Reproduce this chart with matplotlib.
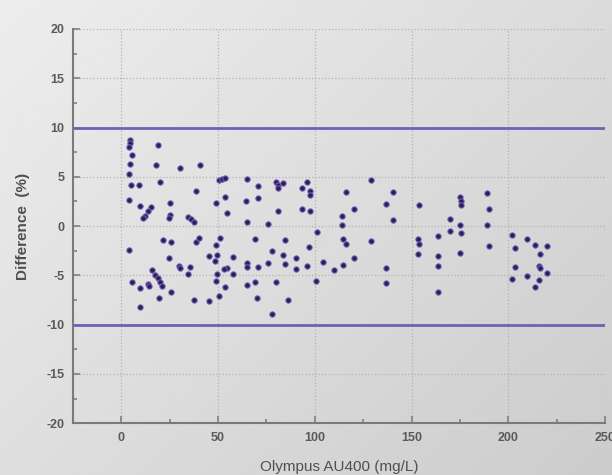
import numpy as np
import matplotlib
matplotlib.use("Agg")
import matplotlib.pyplot as plt
from matplotlib.ticker import MultipleLocator

# values
x = [4.6, 4.3, 4.0, 5.7, 4.6, 3.8, 4.8, 9.4, 3.8, 9.6, 15.3, 13.7, 12.4, 11.2, 19.2, 18.0,
     20.1, 25.3, 25.3, 24.9, 30.1, 40.5, 38.5, 34.7, 36.1, 37.8, 21.5, 25.6, 38.7, 4.1, 24.9,
     29.9, 30.4, 35.6, 34.7, 15.8, 17.5, 18.9, 20.1, 21.1, 5.5, 9.8, 13.9, 14.6, 25.8, 19.4,
     9.8, 37.8,
     50.7, 52.2, 53.8, 65.1, 70.4, 79.9, 81.1, 83.3, 80.8, 95.7, 93.5, 97.4, 97.3, 53.6, 49.0,
     64.4, 70.8, 54.5, 80.8, 93.3, 97.4, 64.8, 75.8, 100.9, 40.2, 51.0, 49.0, 69.1, 84.4, 97.1,
     78.0, 83.3, 90.2, 95.7, 90.2, 84.4, 75.8, 70.8, 64.8, 64.8, 57.9, 45.5, 49.3, 48.6, 54.5,
     53.1, 57.9, 49.3, 48.8, 53.4, 65.1, 69.2, 79.9, 100.5, 104.0, 45.5, 50.7, 70.3, 86.2, 78.0,
     129.0, 116.3, 140.4, 137.0, 153.8, 120.1, 113.9, 113.9, 140.4, 114.6, 116.0, 129.0, 153.1,
     153.8, 153.1, 163.8, 163.8, 163.8, 163.8, 110.1, 114.6, 120.1, 137.0, 137.0, 169.9, 169.9,
     175.1, 175.4, 175.6, 175.1, 175.6, 175.1, 189.0, 190.2, 189.0, 190.2, 201.9, 203.6, 203.6,
     201.9, 209.8, 213.6, 219.7, 216.3, 216.0, 216.3, 219.7, 209.8, 216.0, 213.6]
y = [8.7, 8.4, 8.0, 7.2, 6.3, 5.3, 4.15, 4.15, 2.6, 2.0, 1.9, 1.5, 1.0, 0.85, 8.2, 6.15,
     4.5, 2.35, 1.1, 0.8, 5.9, 6.15, 3.6, 0.95, 0.7, 0.45, -1.4, -1.6, -1.6, -2.45, -3.2,
     -4.05, -4.3, -4.2, -4.9, -4.5, -5.0, -5.3, -5.7, -6.1, -5.7, -6.3, -5.85, -6.1, -6.7, -7.25,
     -8.2, -7.45,
     4.7, 4.8, 4.85, 4.75, 4.1, 4.45, 4.2, 4.35, 3.9, 4.45, 3.85, 3.6, 3.15, 3.0, 2.3,
     2.5, 2.9, 1.3, 1.5, 1.7, 1.5, 0.45, 0.25, -0.6, -1.25, -1.2, -1.9, -1.3, -1.4, -2.1,
     -2.5, -2.9, -3.2, -4.05, -4.35, -3.85, -3.75, -4.1, -3.75, -4.15, -3.1, -3.05, -2.95, -3.5, -4.25,
     -4.4, -4.85, -4.85, -5.6, -6.2, -6.0, -5.7, -5.7, -5.6, -3.6, -7.55, -7.1, -7.3, -7.45, -8.9,
     4.7, 3.45, 3.45, 2.25, 2.1, 1.7, 1.0, 0.1, 0.6, -1.3, -1.85, -1.5, -1.35,
     -1.85, -2.8, -1.0, -3.0, -4.05, -6.7, -4.5, -3.95, -3.2, -4.25, -5.8, 0.7, -0.5,
     3.0, 2.5, 2.15, 0.15, -0.75, -2.7, 3.35, 1.7, 0.1, -2.0, -0.9, -2.2, -4.2,
     -5.35, -1.3, -1.95, -2.05, -2.8, -4.05, -4.3, -4.8, -5.1, -5.45, -6.2]
limits = [10, -10]
xticks = [0, 50, 100, 150, 200, 250]
yticks = [-20, -15, -10, -5, 0, 5, 10, 15, 20]

plt.rcParams['font.family'] = ['Liberation Sans', 'DejaVu Sans']
plt.rcParams['axes.unicode_minus'] = False

fig = plt.figure(figsize=(6.12, 4.75), dpi=100)

# grey gradient background
bg = fig.add_axes([0, 0, 1, 1], zorder=-10)
gx, gy = np.meshgrid(np.linspace(0, 1, 300), np.linspace(0, 1, 300))
g = 0.93 - 0.13 * (0.55 * gx + 0.45 * gy)
bg.imshow(g, cmap='gray', vmin=0, vmax=1, aspect='auto', extent=[0, 1, 0, 1], origin='upper')
bg.axis('off')

ax = fig.add_axes([0.119, 0.109, 0.870, 0.830])
ax.set_facecolor('none')
ax.set_xlim(-25, 250)
ax.set_ylim(-20, 20)

for v in limits:
    ax.axhline(v, color='#6b63b5', lw=2, zorder=2)

ax.scatter(x, y, s=15, color='#2b2150', edgecolors='#7b62c4', linewidths=0.7, zorder=3)

ax.set_xticks(xticks)
ax.set_yticks(yticks)
ax.xaxis.set_minor_locator(MultipleLocator(25))
ax.yaxis.set_minor_locator(MultipleLocator(2.5))
ax.grid(True, which='major', color='#b4b4b4', ls=':', lw=0.9)
ax.tick_params(which='both', direction='in', color='#808080', width=1.2)
ax.tick_params(which='major', length=5, labelsize=9, labelcolor='#5a5a5a', pad=6)
ax.tick_params(which='minor', length=3)
for lab in ax.get_xticklabels() + ax.get_yticklabels():
    lab.set_fontweight('bold')

for s in ['top', 'right']:
    ax.spines[s].set_visible(False)
for s in ['left', 'bottom']:
    ax.spines[s].set_color('#7a7a7a')
    ax.spines[s].set_linewidth(1.5)

ax.set_ylabel('Difference  (%)', fontsize=11, color='#505050', fontweight='bold', labelpad=12)
fig.text(0.554, 0.002, 'Olympus AU400 (mg/L)', fontsize=11, color='#505050',
         ha='center', va='bottom')

fig.savefig('out.png', dpi=100)
